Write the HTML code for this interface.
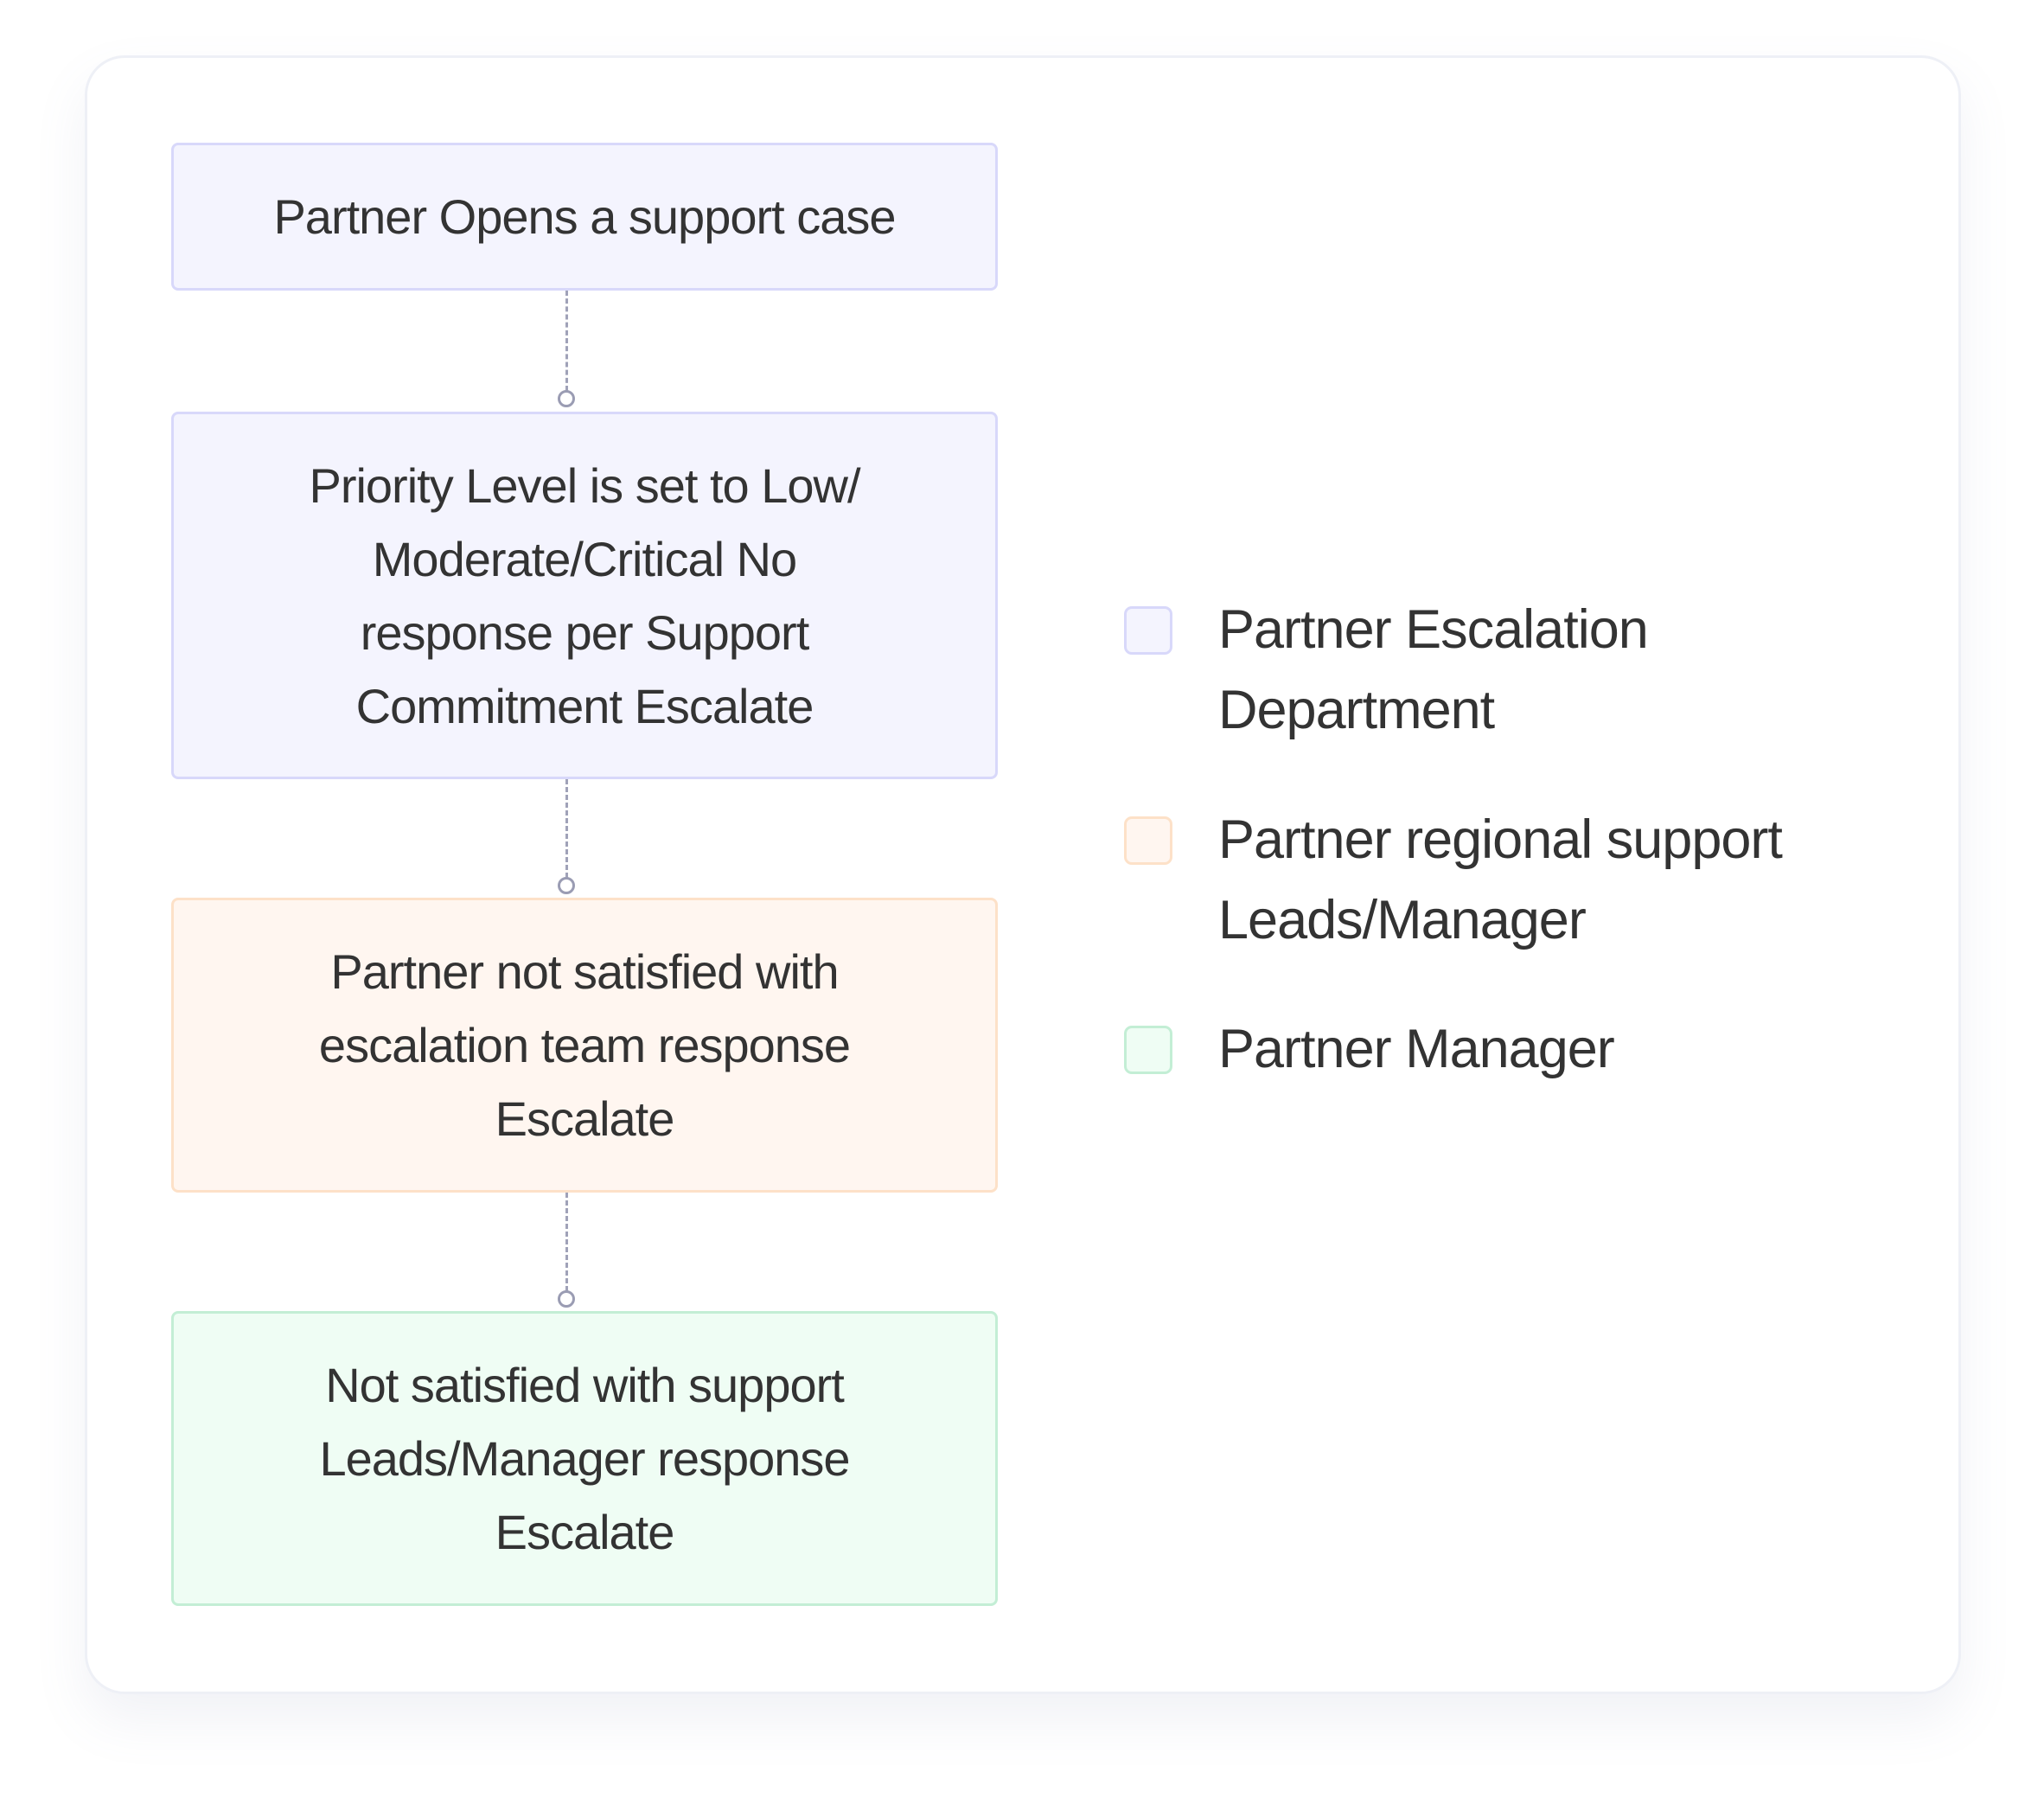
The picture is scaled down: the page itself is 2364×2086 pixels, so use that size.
<!DOCTYPE html>
<html><head><meta charset="utf-8"><style>
*{margin:0;padding:0;box-sizing:border-box}
body{width:2364px;height:2086px;background:#fff;position:relative;overflow:hidden;font-family:"Liberation Sans",sans-serif;color:#333}
.card{position:absolute;left:98px;top:64px;width:2170px;height:1895px;border:3px solid #eef0f6;border-radius:46px;background:#fff;box-shadow:0 30px 60px rgba(120,130,170,0.10)}
.box{position:absolute;left:198px;width:956px;border-width:3px;border-style:solid;border-radius:8px;display:flex;align-items:center;justify-content:center;text-align:center;font-size:56px;line-height:85px;letter-spacing:-1px}
.p{background:#f4f4fe;border-color:#d8d8fa}
.o{background:#fff6f0;border-color:#fde1c8}
.g{background:#effdf4;border-color:#c3eed5}
.dash{position:absolute;left:654px;width:0;border-left:3px dashed #a0a2b8}
.dot{position:absolute;left:645px;width:20px;height:20px;border:3px solid #9a9cb3;border-radius:50%;background:#fff}
.sq{position:absolute;left:1300px;width:56px;height:56px;border-width:3px;border-style:solid;border-radius:9px}
.lt{position:absolute;left:1409px;font-size:63px;line-height:93px;letter-spacing:-1px}
</style></head><body>
<div class="card"></div>
<div class="box p" style="top:165px;height:171px">Partner Opens a support case</div>
<div class="dash" style="top:336px;height:116px"></div>
<div class="dot" style="top:451px"></div>
<div class="box p" style="top:476px;height:425px">Priority Level is set to Low/<br>Moderate/Critical No<br>response per Support<br>Commitment Escalate</div>
<div class="dash" style="top:901px;height:114px"></div>
<div class="dot" style="top:1014px"></div>
<div class="box o" style="top:1038px;height:341px">Partner not satisfied with<br>escalation team response<br>Escalate</div>
<div class="dash" style="top:1379px;height:114px"></div>
<div class="dot" style="top:1492px"></div>
<div class="box g" style="top:1516px;height:341px">Not satisfied with support<br>Leads/Manager response<br>Escalate</div>
<div class="sq p" style="top:701px"></div>
<div class="lt" style="top:682px">Partner Escalation<br>Department</div>
<div class="sq o" style="top:944px"></div>
<div class="lt" style="top:925px">Partner regional support<br>Leads/Manager</div>
<div class="sq g" style="top:1186px"></div>
<div class="lt" style="top:1167px">Partner Manager</div>
</body></html>
